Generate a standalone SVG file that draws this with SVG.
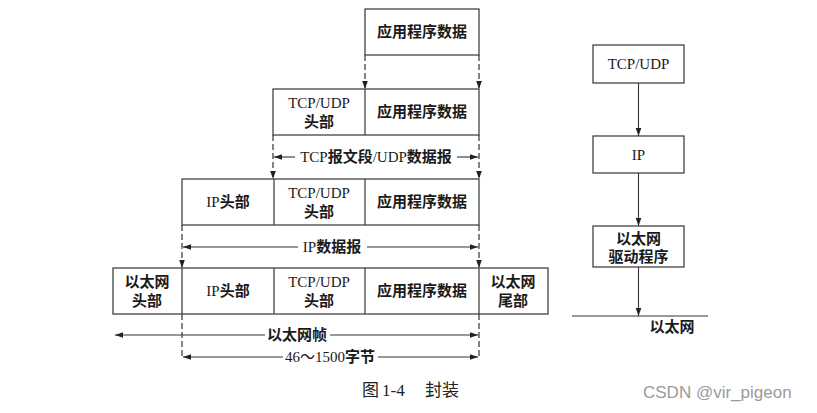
<svg xmlns="http://www.w3.org/2000/svg" width="817" height="413" viewBox="0 0 817 413">
<style>
.box{fill:#fff;stroke:#444;stroke-width:1.3}
.div{stroke:#444;stroke-width:1.3}
.t{font-family:"Liberation Serif","Noto Sans CJK SC",serif;font-size:15px;fill:#1a1a1a;text-anchor:middle}
.c{font-weight:bold}
.dash{stroke:#333;stroke-width:1.2;stroke-dasharray:6,3;fill:none}
.ln{stroke:#333;stroke-width:1.1;fill:none}
.cap{font-family:"Liberation Serif","Noto Sans CJK SC",serif;font-size:17px;fill:#222}
.wm{font-family:"Liberation Sans","Noto Sans",sans-serif;font-size:17px;fill:#9a9a9a}
</style>
<defs>
<marker id="ah" viewBox="0 0 10 10" refX="10" refY="5" markerWidth="8" markerHeight="8" markerUnits="userSpaceOnUse" orient="auto-start-reverse">
<path d="M0,1.5 L10,5 L0,8.5 z" fill="#222"/>
</marker>
</defs>
<rect width="817" height="413" fill="#fff"/>

<g id="row1">
<rect class="box" x="365" y="9" width="114" height="46"/>
<text class="t c" x="422" y="37">应用程序数据</text>
</g>
<g id="row2">
<rect class="box" x="273" y="89" width="206" height="46"/>
<line class="div" x1="365" y1="89" x2="365" y2="135"/>
<text class="t" x="319" y="108">TCP/UDP</text>
<text class="t c" x="319" y="127">头部</text>
<text class="t c" x="422" y="117">应用程序数据</text>
</g>
<g id="row3">
<rect class="box" x="182" y="179" width="297" height="46"/>
<line class="div" x1="274" y1="179" x2="274" y2="225"/>
<line class="div" x1="365" y1="179" x2="365" y2="225"/>
<text class="t" x="228" y="207">IP<tspan class="c">头部</tspan></text>
<text class="t" x="319" y="198">TCP/UDP</text>
<text class="t c" x="319" y="217">头部</text>
<text class="t c" x="422" y="207">应用程序数据</text>
</g>
<g id="row4">
<rect class="box" x="113" y="268" width="435" height="46"/>
<line class="div" x1="182" y1="268" x2="182" y2="314"/>
<line class="div" x1="274" y1="268" x2="274" y2="314"/>
<line class="div" x1="365" y1="268" x2="365" y2="314"/>
<line class="div" x1="479" y1="268" x2="479" y2="314"/>
<text class="t c" x="147" y="287">以太网</text>
<text class="t c" x="147" y="306">头部</text>
<text class="t" x="228" y="296">IP<tspan class="c">头部</tspan></text>
<text class="t" x="319" y="287">TCP/UDP</text>
<text class="t c" x="319" y="306">头部</text>
<text class="t c" x="422" y="296">应用程序数据</text>
<text class="t c" x="513" y="287">以太网</text>
<text class="t c" x="513" y="306">尾部</text>
</g>

<g id="stack-tcpudp">
<rect class="box" x="593" y="45" width="91" height="38"/>
<text class="t" x="638.5" y="69">TCP/UDP</text>
</g>
<g id="stack-ip">
<rect class="box" x="593" y="136" width="91" height="37"/>
<text class="t" x="638.5" y="160">IP</text>
</g>
<g id="stack-eth">
<rect class="box" x="593" y="226" width="91" height="41"/>
<text class="t c" x="638.5" y="244">以太网</text>
<text class="t c" x="638.5" y="262">驱动程序</text>
</g>
<g id="ethernet-line">
<line class="ln" x1="572" y1="316" x2="708" y2="316" stroke-width="1.3"/>
<text class="t c" x="672" y="332">以太网</text>
</g>

<g id="connectors">
<line class="dash" x1="365" y1="55" x2="365" y2="89" marker-end="url(#ah)"/>
<line class="dash" x1="479" y1="55" x2="479" y2="89" marker-end="url(#ah)"/>
<line class="dash" x1="273" y1="135" x2="273" y2="179" marker-end="url(#ah)"/>
<line class="dash" x1="479" y1="135" x2="479" y2="179" marker-end="url(#ah)"/>
<line class="ln" x1="295" y1="157" x2="274" y2="157" marker-end="url(#ah)"/>
<line class="ln" x1="457" y1="157" x2="478" y2="157" marker-end="url(#ah)"/>
<text class="t" x="376" y="162">TCP<tspan class="c">报文段</tspan>/UDP<tspan class="c">数据报</tspan></text>

<line class="dash" x1="182" y1="225" x2="182" y2="268" marker-end="url(#ah)"/>
<line class="dash" x1="479" y1="225" x2="479" y2="268" marker-end="url(#ah)"/>
<line class="ln" x1="298" y1="247" x2="183" y2="247" marker-end="url(#ah)"/>
<line class="ln" x1="367" y1="247" x2="478" y2="247" marker-end="url(#ah)"/>
<text class="t" x="332" y="252">IP<tspan class="c">数据报</tspan></text>

<line class="dash" x1="182" y1="314" x2="182" y2="357"/>
<line class="dash" x1="479" y1="314" x2="479" y2="357"/>
<line class="ln" x1="265" y1="335" x2="115" y2="335" marker-end="url(#ah)"/>
<line class="ln" x1="330" y1="335" x2="478" y2="335" marker-end="url(#ah)"/>
<text class="t c" x="297" y="340">以太网帧</text>
<line class="ln" x1="283" y1="357" x2="183" y2="357" marker-end="url(#ah)"/>
<line class="ln" x1="378" y1="357" x2="478" y2="357" marker-end="url(#ah)"/>
<text class="t" x="330" y="362">46～1500<tspan class="c">字节</tspan></text>

<line class="ln" x1="638.5" y1="83" x2="638.5" y2="136" marker-end="url(#ah)"/>
<line class="ln" x1="638.5" y1="173" x2="638.5" y2="226" marker-end="url(#ah)"/>
<line class="ln" x1="638.5" y1="267" x2="638.5" y2="316" marker-end="url(#ah)"/>
</g>

<g id="caption">
<text class="cap" x="362" y="396">图</text>
<text class="cap" x="382" y="396">1-4</text>
<text class="cap" x="425" y="396">封装</text>
</g>
<text class="wm" x="643" y="398">CSDN @vir_pigeon</text>
</svg>
